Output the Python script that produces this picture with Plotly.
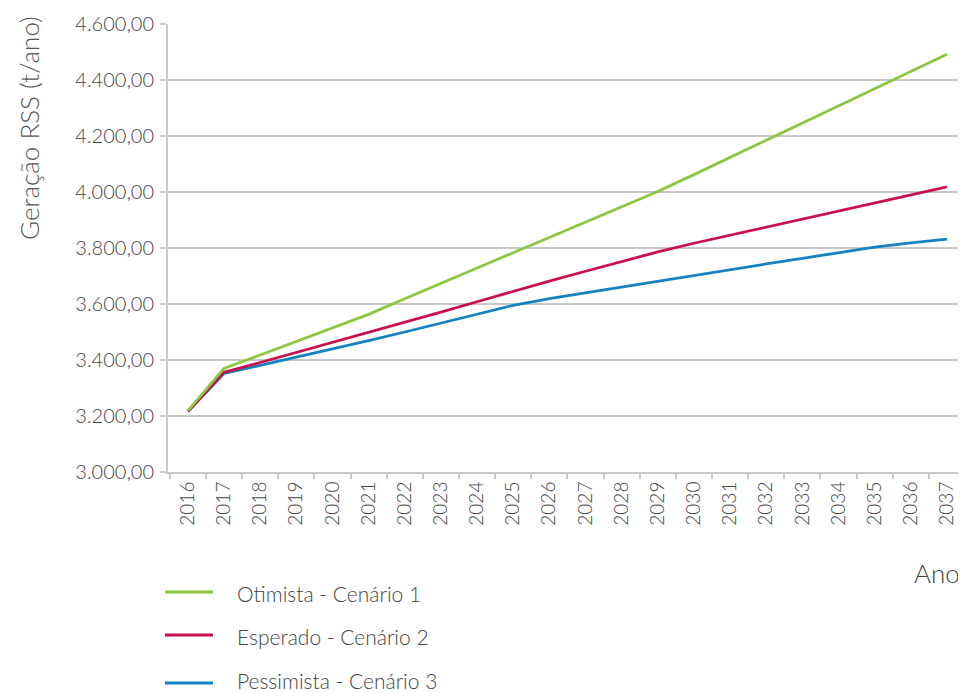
import plotly.graph_objects as go

years = [str(y) for y in range(2016, 2038)]

otimista = [3218, 3370, 3418, 3466, 3515, 3563, 3619, 3674, 3729, 3784, 3839,
            3894, 3948, 4002, 4062, 4124, 4185, 4246, 4308, 4369, 4430, 4492]
esperado = [3216, 3356, 3391, 3427, 3462, 3497, 3534, 3571, 3608, 3646, 3682,
            3717, 3751, 3786, 3817, 3846, 3874, 3903, 3932, 3960, 3989, 4018]
pessimista = [3216, 3352, 3381, 3410, 3440, 3469, 3500, 3532, 3563, 3595, 3619,
              3640, 3661, 3681, 3702, 3722, 3743, 3763, 3783, 3803, 3818, 3832]

names = ["Otimista - Cenário 1", "Esperado - Cenário 2", "Pessimista - Cenário 3"]
colors = ["#8cc63f", "#c8104d", "#1481c0"]

y_ticks = [3000, 3200, 3400, 3600, 3800, 4000, 4200, 4400, 4600]
y_ticktext = ["3.000,00", "3.200,00", "3.400,00", "3.600,00", "3.800,00",
              "4.000,00", "4.200,00", "4.400,00", "4.600,00"]

FONT = "Lato"
OFF = 8  # page body margin: figure origin sits at window (8, 8)
W, H = 966 - OFF, 693 - OFF
# window-pixel layout
AX_L, AX_R, AX_T, AX_B = 168, 965, 24, 472
L, T = AX_L - OFF, AX_T - OFF
R = W - (AX_R - OFF)
B = H - (AX_B - OFF)
pw, ph = W - L - R, H - T - B

def px_x(x):  # window x -> paper
    return (x - AX_L) / pw

def px_y(y):  # window y -> paper
    return (AX_B - y) / ph

fig = go.Figure()
series = [otimista, esperado, pessimista]
for i in [2, 1, 0]:
    fig.add_trace(go.Scatter(
        x=years, y=series[i], name=names[i], mode="lines",
        line=dict(color=colors[i], width=2.8), showlegend=False,
    ))

legend_line_y = [592, 635, 683]
legend_text_y = [593, 636, 680]
for i in range(3):
    fig.add_shape(type="line", xref="paper", yref="paper",
                  x0=px_x(165), x1=px_x(213), y0=px_y(legend_line_y[i]), y1=px_y(legend_line_y[i]),
                  line=dict(color=colors[i], width=2.8))
    fig.add_annotation(text=names[i], xref="paper", yref="paper",
                       x=px_x(235), y=px_y(legend_text_y[i]), xanchor="left", yanchor="middle",
                       showarrow=False, font=dict(family=FONT, size=21, color="#444444", weight=300))

fig.add_annotation(text="Geração RSS (t/ano)", xref="paper", yref="paper",
                   x=px_x(29), y=px_y(128), xanchor="center", yanchor="middle", textangle=-90,
                   showarrow=False, font=dict(family=FONT, size=26, color="#555555", weight=300))
fig.add_annotation(text="Ano", xref="paper", yref="paper",
                   x=px_x(962), y=px_y(573), xanchor="right", yanchor="middle",
                   showarrow=False, font=dict(family=FONT, size=26, color="#444444", weight=300))

fig.update_layout(
    width=W, height=H,
    margin=dict(l=L, r=R, t=T, b=B),
    paper_bgcolor="white", plot_bgcolor="white",
    font=dict(family=FONT, color="#444444", weight=300),
    showlegend=False,
)
fig.update_xaxes(
    type="category", range=[-0.55, 21.5],
    showgrid=False, showline=True, linecolor="#c8c8c8", linewidth=2,
    ticks="outside", tickson="boundaries", ticklen=5, tickcolor="#c8c8c8", tickwidth=2,
    tickangle=-90, tickfont=dict(family=FONT, size=19, color="#444444", weight=300),
)
fig.update_yaxes(
    range=[3000, 4600], tickvals=y_ticks, ticktext=y_ticktext,
    showgrid=True, gridcolor="#c8c8c8", gridwidth=2,
    showline=True, linecolor="#c8c8c8", linewidth=2,
    ticks="outside", ticklen=6, tickcolor="#c8c8c8", tickwidth=2,
    ticklabelstandoff=2,
    tickfont=dict(family=FONT, size=20, color="#444444", weight=300),
    zeroline=False,
)

fig.write_html("out.html")
